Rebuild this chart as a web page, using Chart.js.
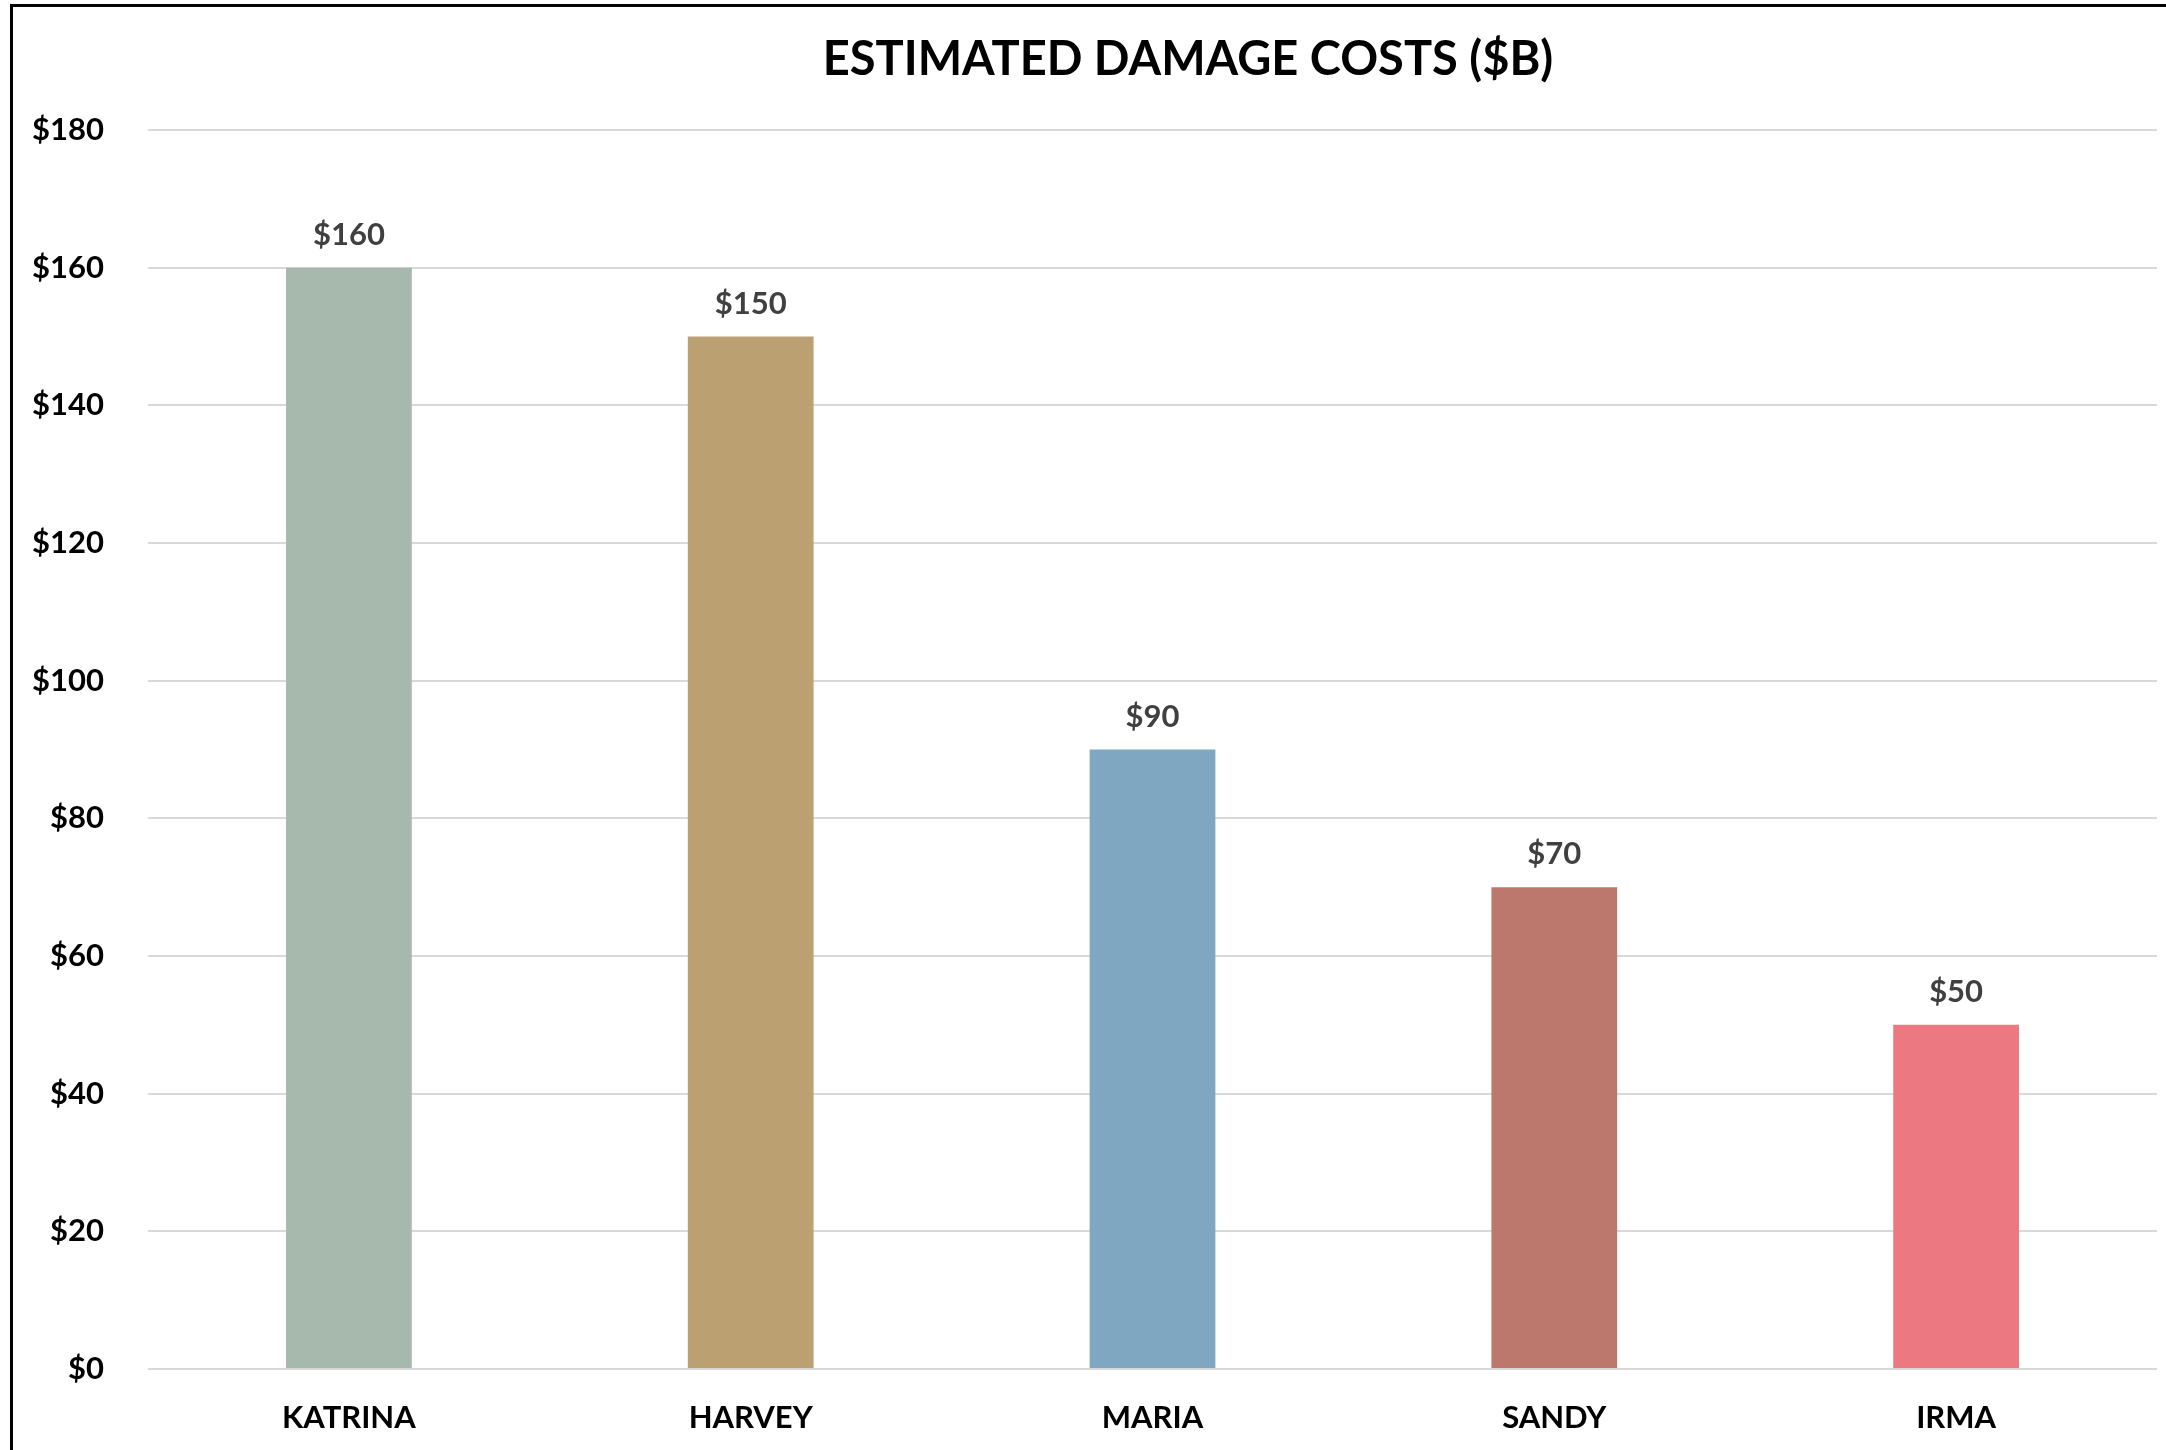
<!DOCTYPE html>
<html>
<head>
<meta charset="utf-8">
<script src="https://cdn.jsdelivr.net/npm/chart.js@4/dist/chart.umd.min.js"></script>
<style>
  html, body { margin: 0; padding: 0; background: #fff; }
  #wrap { position: relative; width: 2166px; height: 1450px; overflow: hidden; }
  #frame {
    position: absolute; left: 10px; top: 4px; right: -10px; bottom: -10px;
    border-top: 3px solid #000; border-left: 3px solid #000;
    pointer-events: none;
  }
  canvas { display: block; }
</style>
</head>
<body>
<div id="wrap">
  <canvas id="chart" width="2166" height="1450"></canvas>
  <div id="frame"></div>
</div>
<script>
// Hurricane damage estimates, billions of dollars.
const CATEGORIES = ['KATRINA', 'HARVEY', 'MARIA', 'SANDY', 'IRMA'];
const DAMAGE = [160, 150, 90, 70, 50];
const BAR_COLORS = ['#A7B8AD', '#BBA072', '#7FA7C1', '#BC786C', '#EC7881'];
const TITLE = 'ESTIMATED DAMAGE COSTS ($B)';
const Y_MIN = 0;
const Y_MAX = 180;
const Y_STEP = 20;

const FONT = 'Lato, "Open Sans", sans-serif';

// Title drawn by hand so it can sit off-centre like the original.
const titlePlugin = {
  id: 'offsetTitle',
  afterDraw(chart) {
    const ctx = chart.ctx;
    ctx.save();
    ctx.font = 'bold 47px ' + FONT;
    ctx.fillStyle = '#000';
    ctx.textAlign = 'center';
    ctx.textBaseline = 'middle';
    ctx.fillText(TITLE, 1188, 60);
    ctx.restore();
  },
};

// Value labels above each bar ($160 etc).
const valueLabels = {
  id: 'valueLabels',
  afterDatasetsDraw(chart) {
    const ctx = chart.ctx;
    const meta = chart.getDatasetMeta(0);
    ctx.save();
    ctx.font = 'bold 31px ' + FONT;
    ctx.fillStyle = '#404040';
    ctx.textAlign = 'center';
    ctx.textBaseline = 'middle';
    meta.data.forEach((bar, i) => {
      ctx.fillText('$' + DAMAGE[i], bar.x, bar.y - 33);
    });
    ctx.restore();
  },
};

new Chart(document.getElementById('chart'), {
  type: 'bar',
  data: {
    labels: CATEGORIES,
    datasets: [{
      data: DAMAGE,
      backgroundColor: BAR_COLORS,
      borderWidth: 0,
      categoryPercentage: 1.0,
      barPercentage: 0.313,
    }],
  },
  options: {
    responsive: false,
    animation: false,
    devicePixelRatio: 1,
    layout: { padding: { top: 130, right: 9, bottom: 0, left: 0 } },
    plugins: {
      legend: { display: false },
      title: { display: false },
      tooltip: { enabled: false },
    },
    scales: {
      x: {
        grid: { display: false, drawTicks: false },
        border: { display: false },
        ticks: { color: '#000', font: { family: FONT, size: 31, weight: 'bold' }, padding: 30, maxRotation: 0 },
        afterFit(scale) { scale.height = 81; },
      },
      y: {
        min: Y_MIN,
        max: Y_MAX,
        grid: { color: '#D9D9D9', lineWidth: 2, drawTicks: false },
        border: { display: false },
        ticks: {
          stepSize: Y_STEP,
          color: '#000',
          padding: 44,
          font: { family: FONT, size: 31, weight: 'bold' },
          callback: v => '$' + v,
        },
        afterFit(scale) { scale.width = 148; },
      },
    },
  },
  plugins: [titlePlugin, valueLabels],
});
</script>
</body>
</html>
